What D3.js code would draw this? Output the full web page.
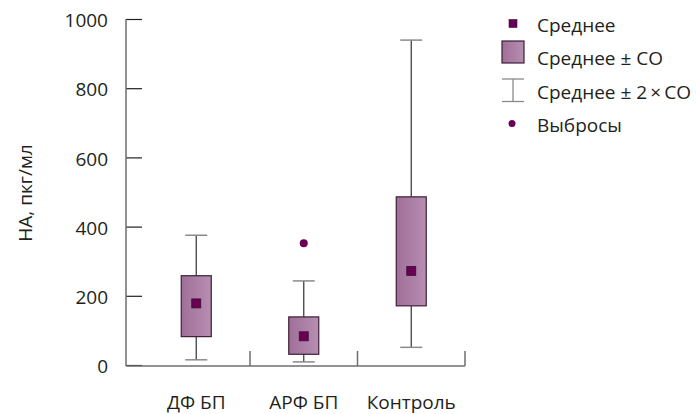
<!DOCTYPE html>
<html><head><meta charset="utf-8">
<script src="https://cdn.jsdelivr.net/npm/d3@7"></script>
<style>body{margin:0;background:#fff;} text{font-family:"Open Sans",sans-serif;fill:#231f20;}</style>
</head><body>
<svg id="c" width="696" height="414"></svg>
<script>
const categories = ["ДФ БП", "АРФ БП", "Контроль"];
const means = [178, 83, 272];
const sdLow = [82, 31, 171];
const sdHigh = [258, 139, 486];
const whiskLow = [15, 9, 51];
const whiskHigh = [375, 243, 939];
const outliers = [{cat: "АРФ БП", value: 352}];
const yTicks = [0, 200, 400, 600, 800, 1000];
const legendLabels = ["Среднее", "Среднее ± СО", "Среднее ± 2\u2009×\u2009СО", "Выбросы"];

const FS = 19;
const svg = d3.select("#c");
const defs = svg.append("defs");
const g = defs.append("linearGradient").attr("id","bx").attr("x1","0").attr("x2","1").attr("y1","0").attr("y2","0");
g.append("stop").attr("offset","0").attr("stop-color","#a06f99");
g.append("stop").attr("offset","1").attr("stop-color","#b78eb2");

const y = d3.scaleLinear().domain([0,1000]).range([365,19]);
const x = d3.scaleBand().domain(categories).range([142.5,465]);
const axisCol = "#6d6e71";

// y axis
const ya = svg.append("g").attr("transform","translate(126,0)")
  .call(d3.axisRight(y).tickValues(yTicks).tickSize(16).tickFormat(d3.format("d")));
ya.select(".domain").remove();
ya.selectAll(".tick line").attr("stroke","#231f20").attr("stroke-width",1.2);
ya.selectAll(".tick text").attr("x",-18).attr("text-anchor","end").attr("font-size",FS).attr("dy","0.4em");
svg.append("line").attr("x1",126).attr("x2",126).attr("y1",y(1000)).attr("y2",366).attr("stroke",axisCol).attr("stroke-width",1.5);

// x axis
svg.append("line").attr("x1",126).attr("x2",465).attr("y1",366).attr("y2",366).attr("stroke",axisCol).attr("stroke-width",1.5);
const xa = svg.append("g").attr("transform","translate(0,366)")
  .call(d3.axisBottom(x).tickSize(0).tickPadding(30));
xa.select(".domain").remove();
xa.selectAll(".tick text").attr("font-size",FS);
categories.forEach((c)=>{
  const xe = x(c)+x.bandwidth();
  svg.append("line").attr("x1",xe).attr("x2",xe).attr("y1",366).attr("y2",351).attr("stroke",axisCol).attr("stroke-width",1.5);
});

// y label
svg.append("text").attr("transform","translate(32,193) rotate(-90)").attr("text-anchor","middle").attr("font-size",FS).text("НА, пкг/мл");

const bw = 30, cw = 22, ms = 9;
const whiskCol = "#414042", capCol = "#8a8a8c";
categories.forEach((c,i)=>{
  const cx = x(c)+x.bandwidth()/2;
  svg.append("line").attr("x1",cx).attr("x2",cx).attr("y1",y(whiskHigh[i])).attr("y2",y(whiskLow[i])).attr("stroke",whiskCol).attr("stroke-width",1.3);
  [whiskHigh[i], whiskLow[i]].forEach(v=>{
    svg.append("line").attr("x1",cx-cw/2).attr("x2",cx+cw/2).attr("y1",y(v)).attr("y2",y(v)).attr("stroke",capCol).attr("stroke-width",1.5);
  });
  svg.append("rect").attr("x",cx-bw/2).attr("width",bw).attr("y",y(sdHigh[i])).attr("height",y(sdLow[i])-y(sdHigh[i]))
    .attr("fill","url(#bx)").attr("stroke","#3b1f36").attr("stroke-width",1.2);
  svg.append("rect").attr("x",cx-ms/2).attr("width",ms).attr("y",y(means[i])-ms/2).attr("height",ms)
    .attr("fill","#6a0055").attr("stroke","#3a1030").attr("stroke-width",0.8);
});
outliers.forEach(o=>{
  svg.append("circle").attr("cx",x(o.cat)+x.bandwidth()/2).attr("cy",y(o.value)).attr("r",4).attr("fill","#6a0055");
});

// legend
const lx = 513;
const textY = [25, 58, 92, 125];
svg.append("rect").attr("x",lx-4).attr("y",19.5).attr("width",8).attr("height",8).attr("fill","#6a0055").attr("stroke","#3a1030").attr("stroke-width",0.6);
svg.append("rect").attr("x",502).attr("y",41).attr("width",22).attr("height",22).attr("fill","url(#bx)").attr("stroke","#3b1f36").attr("stroke-width",1.2);
svg.append("line").attr("x1",lx).attr("x2",lx).attr("y1",79).attr("y2",101.5).attr("stroke",capCol).attr("stroke-width",1.3);
[79, 101.5].forEach(v=>svg.append("line").attr("x1",502).attr("x2",524).attr("y1",v).attr("y2",v).attr("stroke",capCol).attr("stroke-width",1.3));
svg.append("circle").attr("cx",lx-1).attr("cy",123.5).attr("r",3.5).attr("fill","#6a0055");
legendLabels.forEach((t,i)=>{
  svg.append("text").attr("x",537).attr("y",textY[i]).attr("dy","0.35em").attr("font-size",FS).text(t);
});
</script>
</body></html>
